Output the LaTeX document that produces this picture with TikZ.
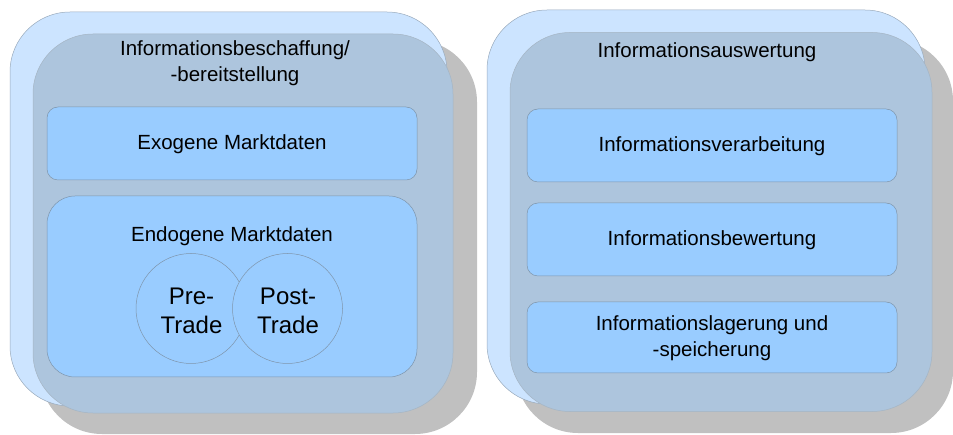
\documentclass[tikz,border=0pt]{standalone}
\usepackage{fontspec}
\setmainfont{Liberation Sans}
\definecolor{shadowgray}{HTML}{C0C0C0}
\definecolor{backblue}{HTML}{CCE4FF}
\definecolor{panelblue}{HTML}{ADC5DD}
\definecolor{boxblue}{HTML}{99CCFF}
\definecolor{edgegray}{HTML}{7F95AB}
\tikzset{
  plate/.style={rectangle, inner sep=0pt, minimum width=#1},
  shadowbox/.style={plate=437pt, fill=shadowgray, draw=none, rounded corners=62pt, minimum height=394pt},
  backbox/.style={plate=437pt, fill=backblue, draw=edgegray!80, line width=0.5pt, rounded corners=60pt, minimum height=394pt},
  panelbox/.style={plate=420pt, fill=panelblue, draw=edgegray!70, line width=0.5pt, rounded corners=60pt, minimum height=379pt},
  itembox/.style={plate=370pt, fill=boxblue, draw=edgegray, line width=0.5pt, rounded corners=11pt, align=center},
  labeltext/.style={align=center, inner sep=0pt, font=\fontsize{20.5}{25.5}\selectfont},
  tradecircle/.style={circle, minimum size=110pt, inner sep=0pt, fill=boxblue, draw=edgegray, line width=0.5pt},
  tradetext/.style={align=center, inner sep=0pt, font=\fontsize{24}{29.5}\selectfont}
}
\begin{document}
\begin{tikzpicture}[x=1pt, y=-1pt]
  \useasboundingbox (0,0) rectangle (953,435);

  % left panel: shadow, highlight plate, main plate
  \node[shadowbox] (lshadow) at (258.5,237) {};
  \node[backbox] (lback) at (228.5,209) {};
  \node[panelbox] (lpanel) at (243,223.5) {};
  \node[labeltext] (ltitle) at (235,63) {Informationsbeschaffung/\\-bereitstellung};

  \node[itembox, minimum height=73pt] (exo) at (232,143.5) {};
  \node[labeltext] (exolabel) at (232,144) {Exogene Marktdaten};

  \node[itembox, minimum height=181pt, rounded corners=28pt] (endo) at (232,286.5) {};
  \node[labeltext] (endolabel) at (232,236) {Endogene Marktdaten};

  \node[tradecircle] (pre) at (191,308.5) {};
  \node[tradecircle] (post) at (287.5,308.5) {};
  \node[tradetext] (pretext) at (191.5,311) {Pre-\\Trade};
  \node[tradetext] (posttext) at (288,311) {Post-\\Trade};

  % right panel: shadow, highlight plate, main plate
  \node[shadowbox] (rshadow) at (734.5,236) {};
  \node[backbox, minimum width=438pt] (rback) at (706,207) {};
  \node[panelbox, minimum width=422pt] (rpanel) at (721,222) {};
  \node[labeltext] (rtitle) at (707,52) {Informationsauswertung};

  \node[itembox, minimum height=73pt] (verarb) at (712,145.5) {};
  \node[labeltext] (verarblabel) at (712,146) {Informationsverarbeitung};

  \node[itembox, minimum height=73pt] (bewert) at (712,239.5) {};
  \node[labeltext] (bewertlabel) at (712,240) {Informationsbewertung};

  \node[itembox, minimum height=71pt] (lager) at (712,337.5) {};
  \node[labeltext] (lagerlabel) at (712,338) {Informationslagerung und\\-speicherung};
\end{tikzpicture}
\end{document}
